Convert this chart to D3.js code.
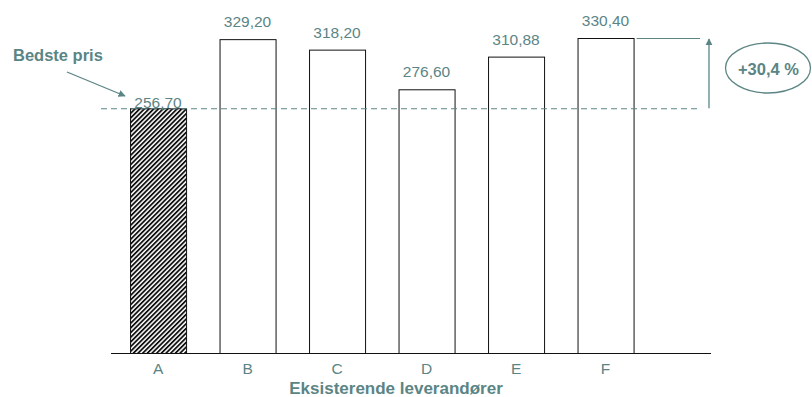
<!DOCTYPE html>
<html>
<head>
<meta charset="utf-8">
<script src="https://cdn.jsdelivr.net/npm/d3@7"></script>
<style>
  html, body { margin: 0; padding: 0; background: #ffffff; }
  svg { display: block; font-family: "Liberation Sans", Arial, sans-serif; }
</style>
</head>
<body>
<svg id="chart" width="812" height="397"></svg>
<script>
// Prices per supplier
const suppliers = ["A", "B", "C", "D", "E", "F"];
const prices = [256.70, 329.20, 318.20, 276.60, 310.88, 330.40];
const bestIndex = 0;
const xTitle = "Eksisterende leverandører";
const bestLabel = "Bedste pris";
const diffLabel = "+30,4 %";

const teal = "#5b8585";
const svg = d3.select("#chart");
const fmt = v => d3.format(".2f")(v).replace(".", ",");

const x = d3.scaleBand()
  .domain(suppliers)
  .range([113.3, 650.3])
  .paddingInner(0.374)
  .paddingOuter(0.187);

const y = d3.scaleLinear()
  .domain([0, d3.max(prices)])
  .range([353, 38]);

const data = suppliers.map((s, i) => ({ s, v: prices[i], i }));

// diagonal hatch for the cheapest supplier
const defs = svg.append("defs");
const pat = defs.append("pattern")
  .attr("id", "hatch")
  .attr("patternUnits", "userSpaceOnUse")
  .attr("width", 3.3).attr("height", 3.3)
  .attr("patternTransform", "rotate(45)");
pat.append("rect").attr("width", 3.3).attr("height", 3.3).attr("fill", "#ffffff");
pat.append("rect").attr("width", 1.8).attr("height", 3.3).attr("fill", "#111111");

defs.append("marker")
  .attr("id", "arrow")
  .attr("viewBox", "0 0 10 10")
  .attr("refX", 9).attr("refY", 5)
  .attr("markerWidth", 5.5).attr("markerHeight", 5.5)
  .attr("markerUnits", "strokeWidth")
  .attr("orient", "auto")
  .append("path")
  .attr("d", "M0,0 L10,5 L0,10 Z")
  .attr("fill", teal);

// bars
svg.append("g").selectAll("rect")
  .data(data)
  .join("rect")
  .attr("x", d => x(d.s) + 0.5)
  .attr("y", d => y(d.v) + 0.5)
  .attr("width", x.bandwidth())
  .attr("height", d => y(0) - y(d.v))
  .attr("fill", d => d.i === bestIndex ? "url(#hatch)" : "#ffffff")
  .attr("stroke", "#111111")
  .attr("stroke-width", 1);

// baseline
svg.append("line")
  .attr("x1", 111).attr("x2", 711)
  .attr("y1", y(0) + 0.5).attr("y2", y(0) + 0.5)
  .attr("stroke", "#111111").attr("stroke-width", 1);

// best price reference line
const yBest = y(prices[bestIndex]);
svg.append("line")
  .attr("x1", 101).attr("x2", 700)
  .attr("y1", yBest + 0.5).attr("y2", yBest + 0.5)
  .attr("stroke", teal).attr("stroke-width", 1)
  .attr("stroke-dasharray", "6,4");

// value labels
svg.append("g").selectAll("text")
  .data(data)
  .join("text")
  .attr("x", d => x(d.s) + x.bandwidth() / 2)
  .attr("y", d => d.i === bestIndex ? y(d.v) : y(d.v) - 12)
  .attr("text-anchor", "middle")
  .attr("font-size", 15.5)
  .attr("fill", teal)
  .text(d => fmt(d.v));

// category labels
svg.append("g").selectAll("text")
  .data(suppliers)
  .join("text")
  .attr("x", d => x(d) + x.bandwidth() / 2)
  .attr("y", 374)
  .attr("text-anchor", "middle")
  .attr("font-size", 15.5)
  .attr("fill", teal)
  .text(d => d);

svg.append("text")
  .attr("x", 396).attr("y", 394)
  .attr("text-anchor", "middle")
  .attr("font-size", 17)
  .attr("font-weight", "bold")
  .attr("fill", teal)
  .text(xTitle);

// "Bedste pris" callout
svg.append("text")
  .attr("x", 13).attr("y", 61)
  .attr("font-size", 16.5)
  .attr("font-weight", "bold")
  .attr("fill", teal)
  .text(bestLabel);
svg.append("line")
  .attr("x1", 67).attr("y1", 72)
  .attr("x2", 125).attr("y2", 96)
  .attr("stroke", teal).attr("stroke-width", 1.3)
  .attr("marker-end", "url(#arrow)");

// gap from best price to highest price
const maxIdx = d3.maxIndex(prices);
const yMax = y(prices[maxIdx]);
svg.append("line")
  .attr("x1", x(suppliers[maxIdx]) + x.bandwidth() + 3).attr("x2", 700)
  .attr("y1", yMax + 0.5).attr("y2", yMax + 0.5)
  .attr("stroke", teal).attr("stroke-width", 1);
svg.append("line")
  .attr("x1", 709).attr("x2", 709)
  .attr("y1", yBest).attr("y2", yMax + 1)
  .attr("stroke", teal).attr("stroke-width", 1.3)
  .attr("marker-end", "url(#arrow)");

svg.append("ellipse")
  .attr("cx", 768).attr("cy", 68)
  .attr("rx", 42.5).attr("ry", 25)
  .attr("fill", "none")
  .attr("stroke", teal).attr("stroke-width", 1.3);
svg.append("text")
  .attr("x", 768.5).attr("y", 75)
  .attr("text-anchor", "middle")
  .attr("font-size", 16.5)
  .attr("font-weight", "bold")
  .attr("fill", teal)
  .text(diffLabel);
</script>
</body>
</html>
